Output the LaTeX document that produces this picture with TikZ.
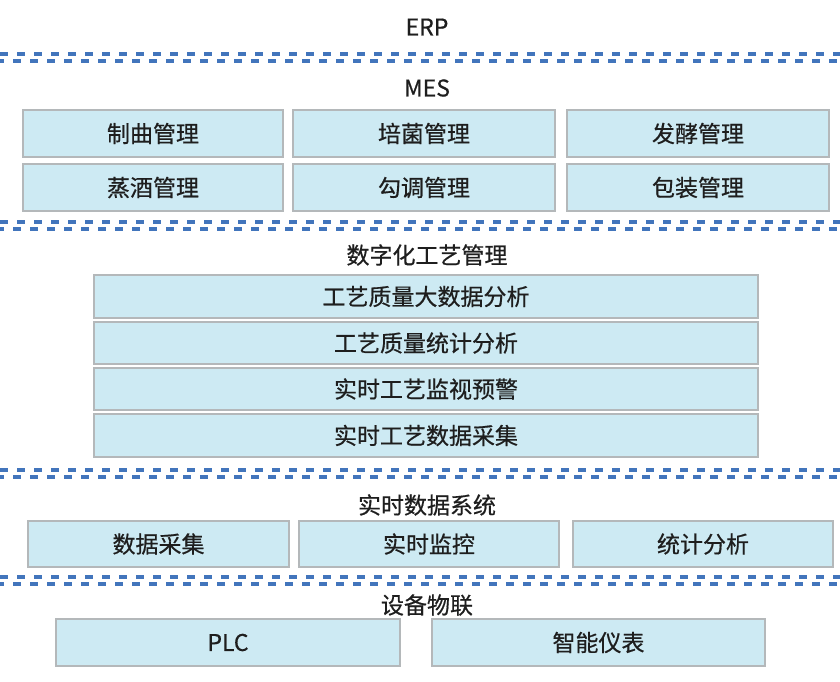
\documentclass[tikz,border=0pt]{standalone}
\usepackage{fontspec}
\newfontfamily\cjk[FakeBold=0.6]{Noto Sans CJK SC}
\usepackage{tikz}
\definecolor{boxfill}{HTML}{CDEAF3}
\definecolor{boxline}{HTML}{B4B8BA}
\definecolor{sepblue}{HTML}{4275BC}
\definecolor{txtgray}{HTML}{1E1E1E}
\tikzset{
	% Two node styles for the layers: module box and layer title
	layer box/.style={rectangle,draw=boxline,line width=1pt,fill=boxfill,inner sep=0,font=\cjk\fontsize{11.5}{14}\selectfont,text=txtgray},
	layer title/.style={inner sep=0,font=\cjk\fontsize{11.5}{14}\selectfont,text=txtgray}
}

\begin{document}
\begin{tikzpicture}[x=0.5pt,y=-0.5pt]
			% macro for the double dashed line between two layers
			\newcommand{\dashsep}[1]{
				\draw[sepblue,line width=1.6pt,dash pattern=on 4pt off 4.5pt](0,#1)--(840,#1);
				\draw[sepblue,line width=1.6pt,dash pattern=on 4pt off 4.5pt,dash phase=2pt](0,#1+7)--(840,#1+7);}
			% macro for inputing module boxes
			\newcommand{\modbox}[5]{\node(#1)[layer box,minimum width=#3*0.5pt,minimum height=#4*0.5pt]at(#2){#5};}
			\useasboundingbox (0,0) rectangle (840,681);
			
			\node(erp)[layer title]at(427,27){ERP};
			\dashsep{54}
			
			\node(mes)[layer title]at(427,88){MES};
			\modbox{mes-1-1}{153,133.5}{260}{47}{制曲管理}
			\modbox{mes-1-2}{424,133.5}{262}{47}{培菌管理}
			\modbox{mes-1-3}{698,133.5}{262}{47}{发酵管理}
			\modbox{mes-2-1}{153,187.5}{260}{47}{蒸酒管理}
			\modbox{mes-2-2}{424,187.5}{262}{47}{勾调管理}
			\modbox{mes-2-3}{698,187.5}{262}{47}{包装管理}
			\dashsep{222}
			
			\node(proc)[layer title]at(427,255){数字化工艺管理};
			\modbox{proc-1}{426,296.5}{664}{43}{工艺质量大数据分析}
			\modbox{proc-2}{426,343}{664}{42}{工艺质量统计分析}
			\modbox{proc-3}{426,389}{664}{42}{实时工艺监视预警}
			\modbox{proc-4}{426,435.5}{664}{43}{实时工艺数据采集}
			\dashsep{470}
			
			\node(rtdb)[layer title]at(427,505){实时数据系统};
			\modbox{rtdb-1}{158.5,544}{261}{46}{数据采集}
			\modbox{rtdb-2}{429,544}{260}{46}{实时监控}
			\modbox{rtdb-3}{703,544}{260}{46}{统计分析}
			\dashsep{577}
			
			\node(iot)[layer title]at(427,605){设备物联};
			\modbox{iot-1}{228,642.5}{344}{47}{PLC}
			\modbox{iot-2}{598.5,642.5}{333}{47}{智能仪表}
		\end{tikzpicture}
\end{document}
